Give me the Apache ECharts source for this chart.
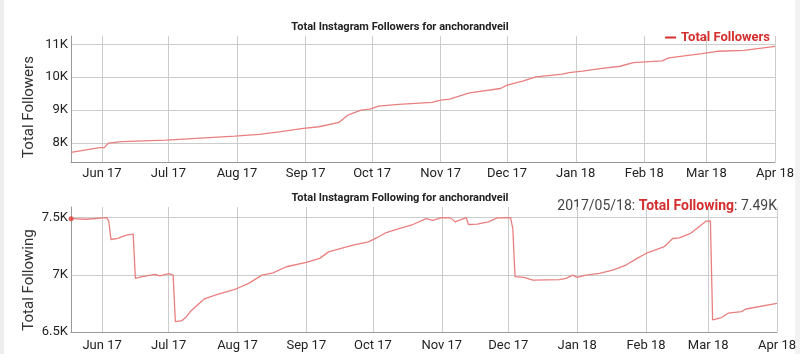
<!DOCTYPE html>
<html>
<head>
<meta charset="utf-8">
<script src="https://cdn.jsdelivr.net/npm/echarts@6/dist/echarts.min.js"></script>
<style>
  html, body { margin: 0; padding: 0; background: #fff; }
  #chart { width: 800px; height: 354px; }
</style>
</head>
<body>
<div id="chart"></div>
<script>
// followers (top chart)
var followerDates = ['2017-05-18', '2017-05-31', '2017-06-02', '2017-06-04', '2017-06-10', '2017-06-30',
  '2017-07-31', '2017-08-11', '2017-08-20', '2017-08-31', '2017-09-07', '2017-09-16', '2017-09-20',
  '2017-09-26', '2017-09-30', '2017-10-04', '2017-10-13', '2017-10-28', '2017-11-01', '2017-11-05',
  '2017-11-14', '2017-11-28', '2017-12-01', '2017-12-08', '2017-12-14', '2017-12-26', '2017-12-29',
  '2018-01-04', '2018-01-12', '2018-01-21', '2018-01-27', '2018-02-09', '2018-02-12', '2018-02-27',
  '2018-03-06', '2018-03-18', '2018-04-01'];
var followerValues = [7718, 7858, 7862, 8000, 8040, 8090,
  8212, 8263, 8342, 8445, 8495, 8627, 8848,
  9000, 9030, 9121, 9172, 9233, 9303, 9333,
  9524, 9657, 9758, 9879, 10010, 10091, 10142,
  10182, 10263, 10333, 10445, 10494, 10585, 10718,
  10788, 10818, 10939];

// following (bottom chart)
var followingDates = ['2017-05-18', '2017-05-25', '2017-06-03', '2017-06-04', '2017-06-05', '2017-06-08',
  '2017-06-12', '2017-06-15', '2017-06-16', '2017-06-19', '2017-06-25', '2017-06-27', '2017-07-01',
  '2017-07-03', '2017-07-04', '2017-07-07', '2017-07-09', '2017-07-11', '2017-07-17', '2017-07-23',
  '2017-07-30', '2017-08-01', '2017-08-06', '2017-08-12', '2017-08-17', '2017-08-23', '2017-09-01',
  '2017-09-07', '2017-09-11', '2017-09-22', '2017-09-29', '2017-10-03', '2017-10-07', '2017-10-12',
  '2017-10-19', '2017-10-25', '2017-10-28', '2017-11-01', '2017-11-05', '2017-11-07', '2017-11-12',
  '2017-11-13', '2017-11-17', '2017-11-22', '2017-11-26', '2017-12-02', '2017-12-03', '2017-12-04',
  '2017-12-08', '2017-12-12', '2017-12-24', '2017-12-27', '2017-12-30', '2018-01-01', '2018-01-05',
  '2018-01-11', '2018-01-17', '2018-01-23', '2018-01-28', '2018-02-01', '2018-02-09', '2018-02-10',
  '2018-02-13', '2018-02-16', '2018-02-21', '2018-02-28', '2018-03-02', '2018-03-03', '2018-03-07',
  '2018-03-10', '2018-03-16', '2018-03-18', '2018-04-01'];
var followingValues = [7490, 7485, 7500, 7470, 7308, 7317,
  7346, 7355, 6969, 6983, 7003, 6991, 7009,
  6997, 6591, 6600, 6634, 6684, 6789, 6829,
  6867, 6882, 6925, 6997, 7017, 7070, 7108,
  7143, 7200, 7259, 7287, 7326, 7369, 7398,
  7439, 7491, 7476, 7500, 7497, 7462, 7500,
  7439, 7442, 7462, 7497, 7500, 7404, 6983,
  6977, 6954, 6957, 6969, 6997, 6977, 6997,
  7012, 7041, 7085, 7143, 7186, 7244, 7259,
  7317, 7322, 7361, 7468, 7470, 6605, 6626,
  6664, 6678, 6701, 6751];

var monthNames = ['Jan', 'Feb', 'Mar', 'Apr', 'May', 'Jun', 'Jul', 'Aug', 'Sep', 'Oct', 'Nov', 'Dec'];
var xMin = new Date(2017, 4, 18).getTime();
var xMax = new Date(2018, 3, 1).getTime();
var DAY = 86400000;

var FONT = 'Roboto';
var lineColor = '#e97f7f';
var accent = '#d32f2f';

function pairs(dates, values) {
  var out = [];
  for (var i = 0; i < dates.length; i++) out.push([dates[i], values[i]]);
  return out;
}

function monthLabel(val) {
  var d = new Date(val);
  return monthNames[d.getMonth()] + ' ' + String(d.getFullYear()).slice(2);
}

function makeX(grid, margin) {
  return {
    type: 'time', gridIndex: grid, min: xMin, max: xMax,
    splitNumber: 11, minInterval: 28 * DAY, maxInterval: 31 * DAY,
    axisLine: { lineStyle: { color: '#999', width: 1 } },
    axisTick: { show: false },
    axisLabel: { formatter: monthLabel, showMinLabel: false, margin: margin, fontSize: 13, color: '#222', fontFamily: FONT, hideOverlap: false },
    splitLine: { show: true, lineStyle: { color: '#cccccc', width: 1 } }
  };
}

var chart = echarts.init(document.getElementById('chart'));

var firstDate = followingDates[0].replace(/-/g, '/');
var firstVal = (followingValues[0] / 1000).toFixed(2) + 'K';

chart.setOption({
  animation: false,
  backgroundColor: '#fff',
  textStyle: { fontFamily: FONT },
  title: [
    { text: 'Total Instagram Followers for anchorandveil', left: 'center', top: 17,
      textStyle: { fontSize: 11, fontWeight: 'bold', color: '#222', fontFamily: FONT } },
    { text: 'Total Instagram Following for anchorandveil', left: 'center', top: 188,
      textStyle: { fontSize: 11, fontWeight: 'bold', color: '#222', fontFamily: FONT } }
  ],
  legend: {
    data: [{ name: 'Total Followers', itemStyle: { color: accent } }],
    right: 25, top: 26, icon: 'rect', itemWidth: 11, itemHeight: 2, itemGap: 4,
    textStyle: { color: accent, fontWeight: 'bold', fontSize: 13, fontFamily: FONT }
  },
  grid: [
    { left: 71, right: 25, top: 36, bottom: 192 },
    { left: 71, right: 23, top: 207, bottom: 22 }
  ],
  xAxis: [makeX(0, 5), makeX(1, 7)],
  yAxis: [
    {
      type: 'value', gridIndex: 0, min: 7424, max: 11252, splitNumber: 4,
      axisLine: { show: true, lineStyle: { color: '#999' } },
      axisTick: { show: false },
      axisLabel: { formatter: function (v) { return v % 1000 === 0 ? (v / 1000) + 'K' : ''; },
        margin: 3, fontSize: 13, color: '#222', fontFamily: FONT },
      splitLine: { lineStyle: { color: '#cccccc' }, showMinLine: false, showMaxLine: false }
    },
    {
      type: 'value', gridIndex: 1, min: 6500, max: 7592, interval: 500,
      axisLine: { show: true, lineStyle: { color: '#999' } },
      axisTick: { show: false },
      axisLabel: { formatter: function (v) { return v % 500 === 0 ? (v / 1000) + 'K' : ''; },
        margin: 3, fontSize: 13, color: '#222', fontFamily: FONT },
      splitLine: { lineStyle: { color: '#cccccc' }, showMinLine: false, showMaxLine: false }
    }
  ],
  series: [
    { name: 'Total Followers', type: 'line', xAxisIndex: 0, yAxisIndex: 0,
      data: pairs(followerDates, followerValues), showSymbol: false, smooth: false,
      lineStyle: { color: lineColor, width: 1.3 }, itemStyle: { color: lineColor } },
    { name: 'Total Following', type: 'line', xAxisIndex: 1, yAxisIndex: 1,
      data: pairs(followingDates, followingValues), showSymbol: false, smooth: false,
      lineStyle: { color: lineColor, width: 1.3 }, itemStyle: { color: lineColor } },
    { name: 'hover', type: 'scatter', xAxisIndex: 1, yAxisIndex: 1,
      data: [[followingDates[0], followingValues[0]]], symbolSize: 5,
      itemStyle: { color: '#e53935' }, z: 5 }
  ],
  graphic: [
    { type: 'rect', shape: { x: 0, y: 0, width: 4, height: 354 }, style: { fill: '#eeeeee' }, silent: true },
    { type: 'rect', shape: { x: 795, y: 0, width: 5, height: 354 }, style: { fill: '#f2f2f2' }, silent: true },
    { type: 'text', x: 29, y: 107, rotation: Math.PI / 2,
      style: { text: 'Total Followers', align: 'center', verticalAlign: 'middle', fontSize: 15, fill: '#333', fontFamily: FONT } },
    { type: 'text', x: 29, y: 280, rotation: Math.PI / 2,
      style: { text: 'Total Following', align: 'center', verticalAlign: 'middle', fontSize: 15, fill: '#333', fontFamily: FONT } },
    { type: 'text', x: 777, y: 206,
      style: {
        text: '{d|' + firstDate + ': }{n|Total Following}{d|: ' + firstVal + '}',
        align: 'right', verticalAlign: 'middle',
        rich: {
          d: { fontSize: 14, fill: '#444', fontFamily: FONT },
          n: { fontSize: 14, fill: accent, fontWeight: 'bold', fontFamily: FONT }
        }
      } }
  ]
});
</script>
</body>
</html>
